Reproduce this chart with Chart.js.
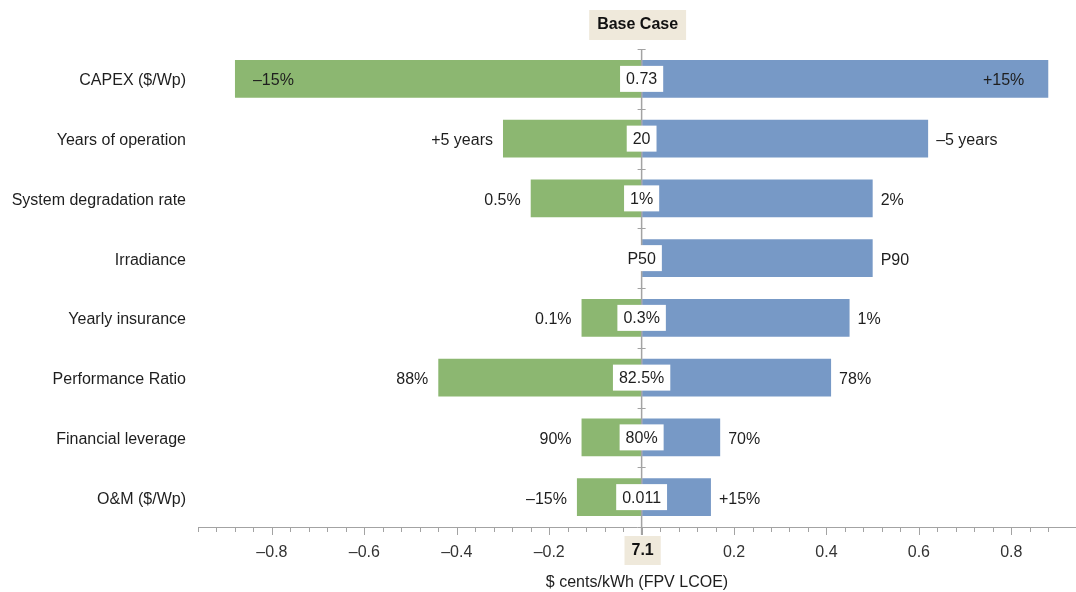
<!DOCTYPE html>
<html>
<head>
<meta charset="utf-8">
<script src="https://cdn.jsdelivr.net/npm/chart.js@4/dist/chart.umd.min.js"></script>
<style>
  html, body { margin: 0; padding: 0; background: #fff; }
  #chart-container { width: 1076px; height: 592px; position: relative; }
</style>
</head>
<body>
<div id="chart-container"><canvas id="myChart"></canvas></div>
<script>
// tornado chart: LCOE change per parameter, low case (green) vs high case (blue)
var categories = ['CAPEX ($/Wp)', 'Years of operation', 'System degradation rate', 'Irradiance',
                  'Yearly insurance', 'Performance Ratio', 'Financial leverage', 'O&M ($/Wp)'];
var lowSide  = [-0.88, -0.30, -0.24, 0, -0.13, -0.44, -0.13, -0.14];
var highSide = [0.88, 0.62, 0.50, 0.50, 0.45, 0.41, 0.17, 0.15];
var lowLabels  = ['–15%', '+5 years', '0.5%', '', '0.1%', '88%', '90%', '–15%'];
var highLabels = ['+15%', '–5 years', '2%', 'P90', '1%', '78%', '70%', '+15%'];
var baseLabels = ['0.73', '20', '1%', 'P50', '0.3%', '82.5%', '80%', '0.011'];
var baseTitle = 'Base Case';
var baseValue = '7.1';

var FONT = '"Liberation Sans", Arial, sans-serif';
var AXIS_GREY = '#a3a3a3';
var TEXT = '#1e1e1e';

var tornadoDecor = {
    id: 'tornadoDecor',
    afterDatasetsDraw: function (chart) {
        var ctx = chart.ctx;
        var area = chart.chartArea;
        var x = chart.scales.x;
        var x0 = x.getPixelForValue(0);
        var step = (area.bottom - area.top) / categories.length;

        ctx.save();
        // minor / major ticks under the axis line
        ctx.strokeStyle = AXIS_GREY;
        ctx.lineWidth = 1;
        x.ticks.forEach(function (t) {
            var v = Math.round(t.value * 100);
            if (v % 4 !== 0) return;
            var px = Math.round(x.getPixelForValue(t.value)) + 0.5;
            var len = (v % 20 === 0) ? 8 : 5;
            ctx.beginPath();
            ctx.moveTo(px, area.bottom);
            ctx.lineTo(px, area.bottom + len);
            ctx.stroke();
        });

        // centre line at the base case, with caps between categories
        ctx.lineWidth = 1.5;
        ctx.beginPath();
        ctx.moveTo(x0, area.top);
        ctx.lineTo(x0, area.bottom + 8);
        ctx.stroke();
        ctx.lineWidth = 1;
        for (var i = 0; i < categories.length; i++) {
            var cy = Math.round(area.top + i * step) + 0.5;
            ctx.beginPath();
            ctx.moveTo(x0 - 4, cy);
            ctx.lineTo(x0 + 4, cy);
            ctx.stroke();
        }

        ctx.font = '16px ' + FONT;
        ctx.textBaseline = 'middle';
        var lowMeta = chart.getDatasetMeta(0);
        var highMeta = chart.getDatasetMeta(1);

        for (var i = 0; i < categories.length; i++) {
            var lowBar = lowMeta.data[i];
            var highBar = highMeta.data[i];
            var y = highBar.y;

            // low case label
            if (lowLabels[i]) {
                var w = ctx.measureText(lowLabels[i]).width;
                ctx.fillStyle = TEXT;
                if (lowBar.x - 10 - w < area.left) {
                    ctx.textAlign = 'left';
                    ctx.fillText(lowLabels[i], lowBar.x + 18, y + 2);
                } else {
                    ctx.textAlign = 'right';
                    ctx.fillText(lowLabels[i], lowBar.x - 10, y + 2);
                }
            }
            // high case label
            if (highLabels[i]) {
                var w2 = ctx.measureText(highLabels[i]).width;
                ctx.fillStyle = TEXT;
                if (highBar.x + 8 + w2 > area.right) {
                    ctx.textAlign = 'right';
                    ctx.fillText(highLabels[i], highBar.x - 24, y + 2);
                } else {
                    ctx.textAlign = 'left';
                    ctx.fillText(highLabels[i], highBar.x + 8, y + 2);
                }
            }
            // base case value in a white box
            var bw = ctx.measureText(baseLabels[i]).width + 12;
            ctx.fillStyle = '#ffffff';
            ctx.fillRect(x0 - bw / 2, y - 13, bw, 26);
            ctx.fillStyle = TEXT;
            ctx.textAlign = 'center';
            ctx.fillText(baseLabels[i], x0, y + 1);
        }

        // "Base Case" tag above and base LCOE value below the axis
        ctx.font = 'bold 16px ' + FONT;
        var tw = ctx.measureText(baseTitle).width + 16;
        ctx.fillStyle = '#efe9db';
        ctx.fillRect(x0 - 4 - tw / 2, 10, tw, 30);
        ctx.fillStyle = '#111';
        ctx.fillText(baseTitle, x0 - 4, 25);

        var vw = ctx.measureText(baseValue).width + 14;
        ctx.fillStyle = '#efe9db';
        ctx.fillRect(x0 + 1 - vw / 2, area.bottom + 9, vw, 29);
        ctx.fillStyle = '#111';
        ctx.fillText(baseValue, x0 + 1, area.bottom + 24);
        ctx.restore();
    }
};

var ctx = document.getElementById('myChart');
var myChart = new Chart(ctx, {
    type: 'bar',
    data: {
        labels: categories,
        datasets: [{
            label: 'Low case',
            data: lowSide,
            backgroundColor: '#8cb771',
            categoryPercentage: 0.63,
            barPercentage: 1
        }, {
            label: 'High case',
            data: highSide,
            backgroundColor: '#7799c6',
            categoryPercentage: 0.63,
            barPercentage: 1
        }]
    },
    options: {
        indexAxis: 'y',
        responsive: true,
        maintainAspectRatio: false,
        animation: false,
        layout: { padding: { top: 49, right: 0, left: 0, bottom: 0 } },
        plugins: {
            legend: { display: false },
            tooltip: { enabled: false }
        },
        scales: {
            y: {
                stacked: true,
                grid: { display: false },
                border: { display: false },
                ticks: {
                    color: TEXT,
                    padding: 4,
                    labelOffset: 2,
                    font: { family: FONT, size: 16 }
                },
                afterFit: function (scale) { scale.width = 198; }
            },
            x: {
                stacked: true,
                min: -0.96,
                max: 0.94,
                grid: {
                    display: true,
                    drawOnChartArea: false,
                    drawTicks: true,
                    tickLength: 8,
                    tickColor: 'rgba(0,0,0,0)'
                },
                border: { display: true, color: AXIS_GREY, width: 1 },
                ticks: {
                    stepSize: 0.04,
                    autoSkip: false,
                    maxRotation: 0,
                    padding: 8,
                    color: '#333',
                    font: { family: FONT, size: 16 },
                    callback: function (v) {
                        var n = Math.round(v * 100);
                        if (n === 0 || n % 20 !== 0) return '';
                        return (n < 0 ? '–' : '') + Math.abs(n / 100).toFixed(1);
                    }
                },
                title: {
                    display: true,
                    text: '$ cents/kWh (FPV LCOE)',
                    color: TEXT,
                    font: { family: FONT, size: 16 },
                    padding: { top: 4, bottom: 0 }
                },
                afterFit: function (scale) {
                    // axis runs right to the canvas edge
                    scale.height = 65;
                    scale.paddingLeft = 0;
                    scale.paddingRight = 0;
                }
            }
        }
    },
    plugins: [tornadoDecor]
});
</script>
</body>
</html>
